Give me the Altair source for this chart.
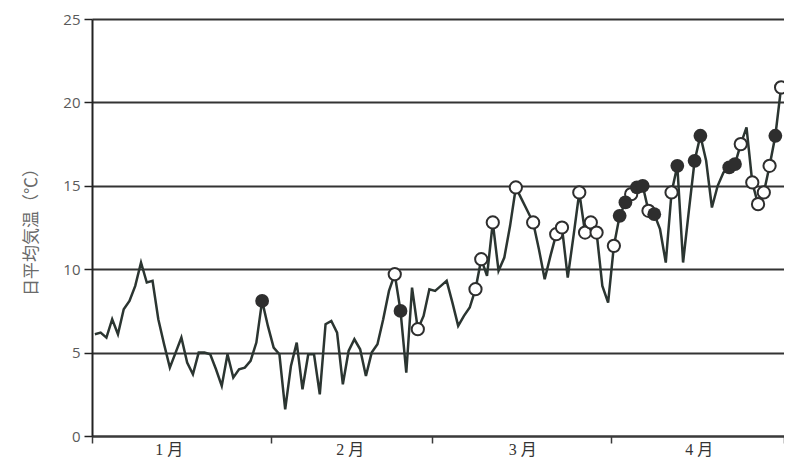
import altair as alt
import pandas as pd

# Daily mean temperature (deg C), Jan 1 .. Apr 30 (120 days)
temps = [
    # January (31)
    6.1, 6.2, 5.9, 7.0, 6.1, 7.6, 8.1, 9.0, 10.4, 9.2,
    9.3, 7.0, 5.5, 4.1, 5.0, 5.9, 4.4, 3.7, 5.0, 5.0,
    4.9, 4.0, 3.0, 4.9, 3.5, 4.0, 4.1, 4.5, 5.6, 8.1,
    6.6,
    # February (28)
    5.3, 4.9, 1.6, 4.2, 5.6, 2.8, 4.9, 4.9, 2.5, 6.7,
    6.9, 6.2, 3.1, 5.1, 5.8, 5.2, 3.6, 5.0, 5.5, 7.0,
    8.7, 9.7, 7.5, 3.8, 8.9, 6.4, 7.2, 8.8,
    # March (31)
    8.7, 9.0, 9.3, 8.0, 6.6, 7.2, 7.7, 8.8, 10.6, 9.6,
    12.8, 9.9, 10.7, 12.6, 14.9, 14.2, 13.5, 12.8, 11.2, 9.4,
    10.8, 12.1, 12.5, 9.5, 12.0, 14.6, 12.2, 12.8, 12.2, 9.0,
    8.0,
    # April (30)
    11.4, 13.2, 14.0, 14.5, 14.9, 15.0, 13.5, 13.3, 12.4, 10.4,
    14.6, 16.2, 10.4, 13.5, 16.5, 18.0, 16.5, 13.7, 15.0, 15.8,
    16.1, 16.3, 17.5, 18.5, 15.2, 13.9, 14.6, 16.2, 18.0, 20.9,
]

# day indices (0-based) carrying a filled / an open circle
filled_days = [29, 53, 91, 92, 94, 95, 97, 101, 104, 105, 110, 111, 118]
open_days = [52, 56, 66, 67, 69, 73, 76, 80, 81, 84, 85, 86, 87,
             90, 93, 96, 100, 112, 114, 115, 116, 117, 119]

month_labels = ["1 月", "2 月", "3 月", "4 月"]
month_bounds = [0, 31, 59, 90, 120]
month_label_pos = [13.4, 44.8, 74.7, 105.3]
y_ticks = [0, 5, 10, 15, 20, 25]

W, H = 692, 417

df = pd.DataFrame({"day": [i + 0.5 for i in range(len(temps))], "temp": temps})
df_f = pd.DataFrame({"day": [d + 0.5 for d in filled_days], "temp": [temps[d] for d in filled_days]})
df_o = pd.DataFrame({"day": [d + 0.5 for d in open_days], "temp": [temps[d] for d in open_days]})
df_m = pd.DataFrame({"pos": month_label_pos, "label": month_labels})

xs = alt.Scale(domain=[0, 120], nice=False, zero=False)
ys = alt.Scale(domain=[0, 25], nice=False)

x_axis = alt.Axis(values=month_bounds, labels=False, title=None, grid=False,
                  domainColor="#3a3a3a", domainWidth=2, tickColor="#3a3a3a",
                  tickWidth=1.5, tickSize=7)
y_axis = alt.Axis(values=y_ticks, grid=True, gridColor="#333333", gridWidth=2,
                  domainColor="#222222", domainWidth=2, tickColor="#222222",
                  tickWidth=1.5, tickSize=8, labelColor="#5a5a5a", labelFontSize=15,
                  labelFont="Open Sans", labelPadding=4,
                  title="日平均気温（℃）", titleFont="Noto Sans CJK JP",
                  titleFontSize=17, titleFontWeight="normal", titleColor="#6a6a6a",
                  titlePadding=22)

line = alt.Chart(df).mark_line(color="#2b3531", strokeWidth=2.5).encode(
    x=alt.X("day:Q", scale=xs, axis=x_axis),
    y=alt.Y("temp:Q", scale=ys, axis=y_axis),
)

opens = alt.Chart(df_o).mark_point(shape="circle", filled=False, fill="white",
                                   fillOpacity=1, stroke="#2e2e2e", strokeWidth=2,
                                   size=150, opacity=1).encode(
    x=alt.X("day:Q", scale=xs), y=alt.Y("temp:Q", scale=ys))

fills = alt.Chart(df_f).mark_point(shape="circle", filled=True, color="#2e2e2e",
                                   size=190, opacity=1).encode(
    x=alt.X("day:Q", scale=xs), y=alt.Y("temp:Q", scale=ys))

months = alt.Chart(df_m).mark_text(font="Liberation Serif, Noto Sans CJK JP",
                                   fontSize=16, color="#333333", baseline="middle",
                                   align="center").encode(
    x=alt.X("pos:Q", scale=xs), y=alt.value(H + 14), text="label:N")

chart = alt.layer(line, opens, fills, months).properties(
    width=W, height=H,
    autosize=alt.AutoSizeParams(type="none"),
    padding={"left": 84, "top": 11, "right": 0, "bottom": 23},
).configure_view(stroke=None).configure(background="white")

chart.save("out.html", embed_options={"renderer": "svg", "actions": False})
